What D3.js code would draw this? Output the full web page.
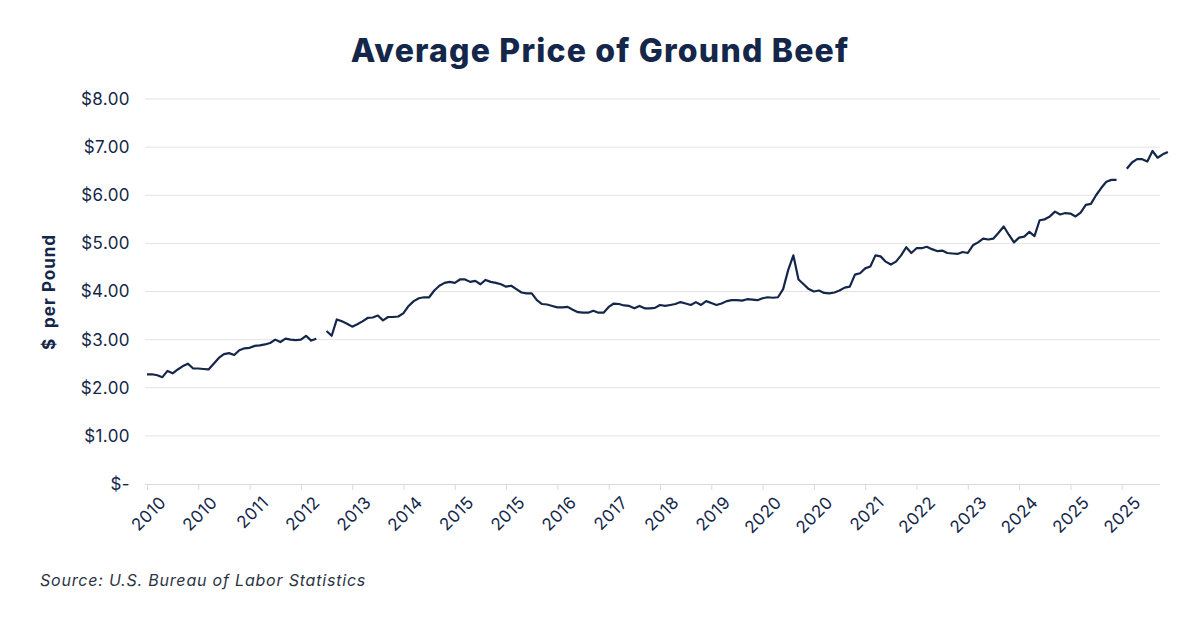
<!DOCTYPE html>
<html><head><meta charset="utf-8">
<script src="https://cdn.jsdelivr.net/npm/d3@7"></script>
<style>body{margin:0;background:#fff;font-family:Inter,"Open Sans",sans-serif;}</style>
</head><body>
<svg id="chart" width="1200" height="627"></svg>
<script>
// monthly average price, null = missing month
const prices = [2.28,2.28,2.26,2.22,2.35,2.30,2.38,2.45,2.50,2.40,2.40,2.39,2.38,2.50,2.62,2.70,2.72,2.68,2.78,2.82,2.83,2.87,2.88,2.90,2.93,3.00,2.95,3.02,3.00,2.99,3.00,3.08,2.98,3.02,null,3.18,3.08,3.42,3.38,3.33,3.27,3.32,3.38,3.45,3.46,3.50,3.40,3.47,3.47,3.48,3.55,3.70,3.80,3.86,3.88,3.88,4.02,4.12,4.18,4.20,4.18,4.25,4.25,4.20,4.22,4.15,4.24,4.20,4.18,4.15,4.10,4.12,4.05,3.98,3.96,3.96,3.82,3.74,3.73,3.70,3.67,3.67,3.68,3.62,3.57,3.56,3.56,3.60,3.56,3.56,3.68,3.75,3.74,3.71,3.70,3.65,3.70,3.65,3.65,3.66,3.72,3.70,3.72,3.74,3.78,3.75,3.72,3.78,3.72,3.80,3.76,3.72,3.75,3.80,3.82,3.82,3.81,3.84,3.83,3.82,3.86,3.88,3.87,3.88,4.05,4.45,4.75,4.25,4.15,4.05,4.00,4.02,3.97,3.96,3.98,4.02,4.08,4.10,4.35,4.38,4.48,4.52,4.75,4.73,4.62,4.56,4.62,4.75,4.92,4.80,4.90,4.90,4.93,4.88,4.84,4.85,4.80,4.79,4.78,4.82,4.80,4.96,5.02,5.10,5.08,5.10,5.22,5.35,5.18,5.02,5.12,5.14,5.24,5.15,5.48,5.50,5.56,5.66,5.60,5.63,5.62,5.56,5.64,5.80,5.82,6.00,6.15,6.28,6.32,6.32,null,6.55,6.68,6.75,6.75,6.70,6.92,6.78,6.85,6.90];
// label shown every 10th month
const tickLabels = ["2010","2010","2011","2012","2013","2014","2015","2015","2016","2017","2018","2019","2020","2020","2021","2022","2023","2024","2025","2025"];
const yTicks = [0,1,2,3,4,5,6,7,8];

const svg = d3.select("#chart");
const navy = "#14274a";
const m = {left:145, right:1160, top:99, bottom:484};

const x = d3.scaleLinear().domain([0, prices.length - 1]).range([m.left + 2, m.left + 2 + (prices.length - 1) * 5.13]);
const y = d3.scaleLinear().domain([0, 8]).range([m.bottom, m.top]);

svg.append("text").attr("x", 600).attr("y", 62).attr("text-anchor", "middle")
  .attr("font-size", 32).attr("font-weight", 800).attr("fill", navy).attr("letter-spacing", "1.2")
  .text("Average Price of Ground Beef");

// grid + y labels
svg.append("g").selectAll("line").data(yTicks.filter(d => d > 0)).join("line")
  .attr("x1", m.left).attr("x2", m.right).attr("y1", d => y(d)).attr("y2", d => y(d))
  .attr("stroke", "#e3e3e3").attr("stroke-width", 1);
svg.append("g").selectAll("text").data(yTicks).join("text")
  .attr("x", 130).attr("y", d => y(d)).attr("dy", "0.35em").attr("text-anchor", "end")
  .attr("font-size", 17).attr("fill", navy).attr("letter-spacing", "0.4")
  .text(d => d === 0 ? "$-" : d3.format("$.2f")(d));

svg.append("text").attr("transform", "translate(55,292) rotate(-90)").attr("text-anchor", "middle")
  .attr("font-size", 17).attr("font-weight", 700).attr("fill", navy).attr("letter-spacing", "1")
  .attr("xml:space", "preserve").text("$  per Pound");

// x axis
const xAxis = d3.axisBottom(x).tickValues(d3.range(0, 200, 10)).tickSize(6)
  .tickFormat((d, i) => tickLabels[i]);
const gx = svg.append("g").attr("transform", `translate(0,${m.bottom})`).call(xAxis);
gx.select(".domain").attr("d", `M${m.left},0.5H${m.right}`).attr("stroke", "#d9d9d9");
gx.selectAll(".tick line").attr("stroke", "#d9d9d9");
gx.selectAll(".tick text").attr("font-size", 17).attr("font-family", "Inter,'Open Sans',sans-serif")
  .attr("fill", navy).attr("text-anchor", "end").attr("letter-spacing", "0.4")
  .attr("transform", "translate(6,6) rotate(-45)").attr("dy", "0.6em");

const line = d3.line().defined(d => d !== null).x((d, i) => x(i)).y(d => y(d));
svg.append("path").datum(prices).attr("d", line)
  .attr("fill", "none").attr("stroke", navy).attr("stroke-width", 2.2).attr("stroke-linejoin", "round");

svg.append("text").attr("x", 40).attr("y", 586).attr("font-size", 16).attr("font-style", "italic")
  .attr("fill", "#2b3445").attr("letter-spacing", "0.8").text("Source: U.S. Bureau of Labor Statistics");
</script>
</body></html>
